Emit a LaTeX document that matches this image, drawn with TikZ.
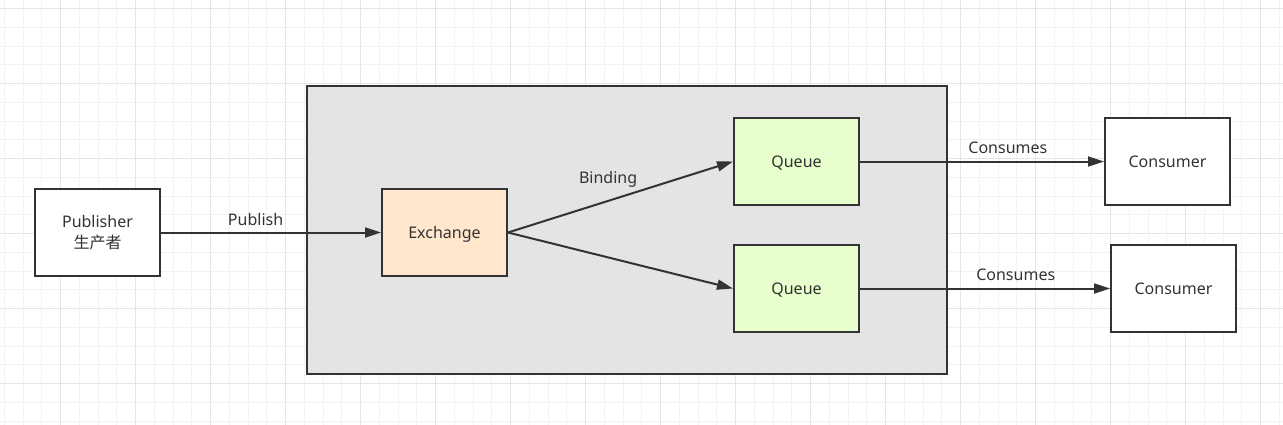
\documentclass[tikz,border=0pt]{standalone}
\usepackage{fontspec}
\setmainfont{Noto Sans}
\newfontfamily\cjk{Noto Sans CJK SC}
\usetikzlibrary{arrows.meta}
\definecolor{gridminor}{RGB}{242,242,242}
\definecolor{gridmajor}{RGB}{229,229,229}
\definecolor{linegray}{RGB}{51,51,51}
\definecolor{textgray}{RGB}{51,51,51}
\definecolor{brokergray}{RGB}{228,228,228}
\definecolor{exchfill}{RGB}{255,230,204}
\definecolor{queuefill}{RGB}{230,255,204}

\begin{document}
\begin{tikzpicture}[x=0.75pt, y=-0.75pt,
  box/.style = {draw = linegray, line width = 1.5pt, fill = white,
    minimum width = 93.75pt, minimum height = 65.25pt, inner sep = 0pt,
    text = textgray, font = \fontsize{12}{15.75}\selectfont, align = center},
  oneline/.style = {text height = 12pt, text depth = 3pt},
  flow/.style = {draw = linegray, line width = 1.5pt,
    -{Triangle[length = 12pt, width = 7.5pt]}},
  lbl/.style = {text = textgray, font = \fontsize{12}{14}\selectfont, inner sep = 0pt}]
\useasboundingbox (0,0) rectangle (1283,425);
\fill[white] (0,0) rectangle (1283,425);
% grid
\foreach \gx in {0,...,68}
  \draw[gridminor, line width = 0.75pt] ({4.45+18.75*\gx},0) -- ({4.45+18.75*\gx},425);
\foreach \gy in {-1,...,22}
  \draw[gridminor, line width = 0.75pt] (0,{8.5+18.75*\gy}) -- (1283,{8.5+18.75*\gy});
\foreach \gx in {-1,...,17}
  \draw[gridmajor, line width = 0.75pt] ({60.7+75*\gx},0) -- ({60.7+75*\gx},425);
\foreach \gy in {0,...,5}
  \draw[gridmajor, line width = 0.75pt] (0,{8.5+75*\gy}) -- (1283,{8.5+75*\gy});
% broker
\draw[draw = linegray, fill = brokergray, line width = 1.5pt] (307,86) rectangle (947,374);
% nodes
\node[box] (pub) at (97.5,232.5) {Publisher\\{\cjk 生产者}};
\node[box, oneline, fill = exchfill] (exch) at (444.5,232.5) {Exchange};
\node[box, oneline, fill = queuefill] (qa) at (796.5,161.5) {Queue};
\node[box, oneline, fill = queuefill] (qb) at (796.5,288.5) {Queue};
\node[box, oneline] (cona) at (1167.5,161.5) {Consumer};
\node[box, oneline] (conb) at (1173.5,288.5) {Consumer};
% connectors
\draw[flow] (pub.east) -- node[lbl, pos = 0.43, yshift = 9.5pt] {Publish} (exch.west);
\draw[flow] (exch.east) -- node[lbl, pos = 0.445, yshift = 16.5pt] {Binding} (qa.west);
\draw[flow] (exch.east) -- (qb.west);
\draw[flow] (qa.east) -- node[lbl, pos = 0.606, yshift = 10.5pt] {Consumes} (cona.west);
\draw[flow] (qb.east) -- node[lbl, pos = 0.623, yshift = 10.3pt] {Consumes} (conb.west);
\end{tikzpicture}
\end{document}
